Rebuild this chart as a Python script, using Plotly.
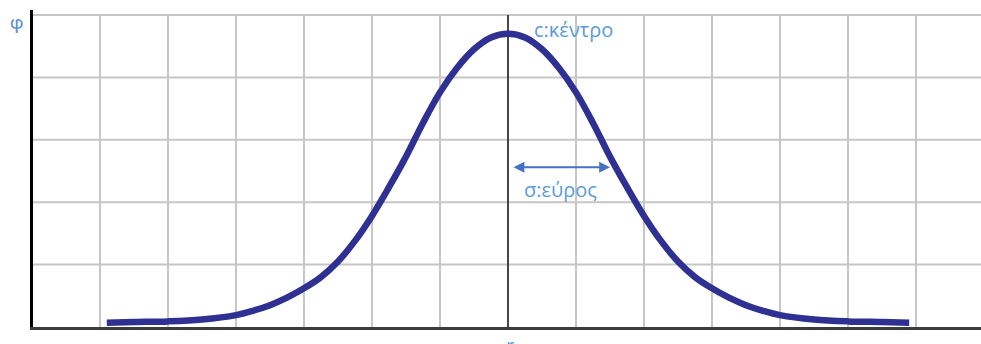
import plotly.graph_objects as go

# Curve values (grid units: x = grid columns from centre, y = grid rows)
r_vals = [-5.9, -5.5, -5.0, -4.5, -4.0, -3.75, -3.5, -3.25, -3.0, -2.75, -2.5, -2.25, -2.0,
          -1.75, -1.5, -1.25, -1.0, -0.75, -0.5, -0.25, 0.0,
          0.25, 0.5, 0.75, 1.0, 1.25, 1.5, 1.75, 2.0, 2.25, 2.5, 2.75, 3.0, 3.25, 3.5,
          3.75, 4.0, 4.5, 5.0, 5.5, 5.9]
phi_vals = [0.07, 0.08, 0.09, 0.12, 0.19, 0.26, 0.35, 0.47, 0.62, 0.80, 1.05, 1.38, 1.78,
            2.24, 2.73, 3.27, 3.76, 4.15, 4.45, 4.64, 4.70,
            4.64, 4.45, 4.15, 3.76, 3.27, 2.73, 2.24, 1.78, 1.38, 1.05, 0.80, 0.62, 0.47, 0.35,
            0.26, 0.19, 0.12, 0.09, 0.08, 0.07]

x_grid = [-6, -5, -4, -3, -2, -1, 1, 2, 3, 4, 5, 6]
y_grid = [1, 2, 3, 4, 5]
x_center = 0
y_top = 5

labels = {"centre": "c:κέντρο", "width": "σ:εύρος", "y": "φ", "x": "r"}
sigma_arrow = [0.06, 1.5]
sigma_arrow_y = 2.56

XR = [-6.985, 6.956]
YR = [0, 5.08]

fig = go.Figure()

shapes = []
for gx in x_grid:
    shapes.append(dict(type="line", xref="x", yref="y", x0=gx, x1=gx, y0=0, y1=y_top,
                       line=dict(color="#c6c6c6", width=2), layer="below"))
for gy in y_grid:
    shapes.append(dict(type="line", xref="x", yref="y", x0=XR[0], x1=XR[1], y0=gy, y1=gy,
                       line=dict(color="#c6c6c6", width=2), layer="below"))
shapes.append(dict(type="line", xref="x", yref="y", x0=x_center, x1=x_center, y0=0, y1=y_top,
                   line=dict(color="#454545", width=2), layer="below"))

fig.add_trace(go.Scatter(x=r_vals, y=phi_vals, mode="lines",
                         line=dict(color="#2E3192", width=6.5, shape="spline", smoothing=1.0),
                         hoverinfo="skip", showlegend=False))

font = dict(family="Open Sans, sans-serif", size=20, color="#5B9BD5")
annotations = [
    dict(x=0.96, y=4.76, xref="x", yref="y", text=labels["centre"], showarrow=False,
         font=font, xanchor="center", yanchor="middle"),
    dict(x=0.77, y=2.21, xref="x", yref="y", text=labels["width"], showarrow=False,
         font=font, xanchor="center", yanchor="middle"),
    dict(x=-0.0169, y=0.959, xref="paper", yref="paper", text=labels["y"], showarrow=False,
         font=dict(family="Roboto, Liberation Sans, sans-serif", size=19, color="#5B8FD0"),
         xanchor="center", yanchor="middle"),
    dict(x=0.03, y=-0.008, xref="x", yref="paper", text=labels["x"], showarrow=False,
         font=font, xanchor="center", yanchor="top"),
    dict(x=sigma_arrow[1], y=sigma_arrow_y, ax=sigma_arrow[0], ay=sigma_arrow_y,
         xref="x", yref="y", axref="x", ayref="y", text="", showarrow=True,
         arrowhead=2, startarrowhead=2, arrowside="end+start", arrowsize=1.2,
         startarrowsize=1.2, arrowwidth=1.8, arrowcolor="#4472C4", standoff=0, startstandoff=0),
]

fig.update_layout(
    width=981, height=344,
    margin=dict(l=33, r=0, t=10, b=17),
    paper_bgcolor="white", plot_bgcolor="white",
    shapes=shapes, annotations=annotations,
    xaxis=dict(range=XR, showgrid=False, zeroline=False, showticklabels=False, ticks="",
               showline=True, linecolor="#3c3c3c", linewidth=3, fixedrange=True),
    yaxis=dict(range=YR, showgrid=False, zeroline=False, showticklabels=False, ticks="",
               showline=True, linecolor="#000000", linewidth=3, fixedrange=True),
    showlegend=False,
)

fig.write_html("out.html", config={"displayModeBar": False},
               post_script="document.body.style.margin='0';document.body.style.padding='0';document.body.style.overflow='hidden';")
